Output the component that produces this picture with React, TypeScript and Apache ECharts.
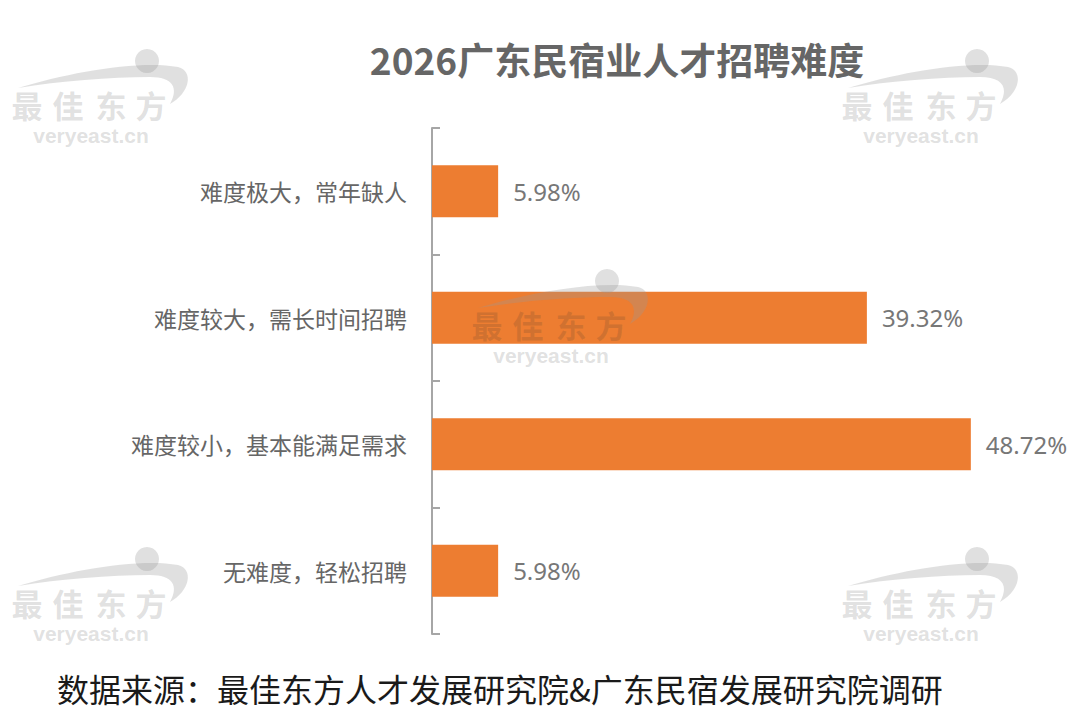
import React, { useEffect, useRef } from "react";
import * as echarts from "echarts";

const categories = [
  "难度极大，常年缺人",
  "难度较大，需长时间招聘",
  "难度较小，基本能满足需求",
  "无难度，轻松招聘",
];
const values = [5.98, 39.32, 48.72, 5.98];
const titleText = "2026广东民宿业人才招聘难度";
const sourceText = "数据来源：最佳东方人才发展研究院&广东民宿发展研究院调研";
const watermarkChars = ["最", "佳", "东", "方"];
const watermarkDomain = "veryeast.cn";
const watermarkOffsets = [
  [0, 0],
  [830, 0],
  [460, 220],
  [0, 498],
  [830, 498],
];

const SWOOSH =
  "M 18 88 C 70 72, 140 60, 178 67 C 194 71, 190 93, 170 104 C 179 88, 173 77, 150 77 C 110 77, 60 81, 18 88 Z";
let registered = false;
function ensureShape() {
  if (registered) return;
  echarts.graphic.registerShape("wmSwoosh", echarts.graphic.extendPath(SWOOSH, {}) as any);
  registered = true;
}

function watermark(dx: number, dy: number, onBar: boolean) {
  const fill = "#999999";
  const op = 0.3;
  const textFill = onBar ? "#6b4a30" : fill;
  const textOp = onBar ? 0.22 : op;
  const Z = 100;
  const charX = [27, 68, 111, 151];
  const children: any[] = [
    { type: "wmSwoosh", z: Z, x: dx, y: dy, style: { fill, opacity: op } },
    { type: "circle", z: Z, shape: { cx: dx + 147, cy: dy + 61, r: 12 }, style: { fill, opacity: op } },
  ];
  watermarkChars.forEach((c, i) => {
    children.push({
      type: "text",
      z: Z,
      x: dx + charX[i],
      y: dy + 104,
      style: {
        text: c,
        fill: textFill,
        opacity: textOp,
        font: 'bold 31px "Noto Sans CJK SC"',
        align: "center",
        verticalAlign: "middle",
      },
    });
  });
  children.push({
    type: "text",
    z: Z,
    x: dx + 91,
    y: dy + 135,
    style: {
      text: watermarkDomain,
      fill,
      opacity: op,
      font: 'bold 21px "Liberation Sans"',
      align: "center",
      verticalAlign: "middle",
    },
  });
  return { type: "group", z: Z, silent: true, children };
}

export default function App() {
  const ref = useRef<HTMLDivElement>(null);
  useEffect(() => {
    if (!ref.current) return;
    ensureShape();
    const chart = echarts.init(ref.current, null, { renderer: "svg" });
    chart.setOption({
      animation: false,
      backgroundColor: "#ffffff",
      title: {
        text: titleText,
        left: 612,
        top: 35,
        textAlign: "center",
        textStyle: {
          fontFamily: '"Noto Sans CJK SC"',
          fontSize: 37,
          fontWeight: "bold",
          color: "#666666",
        },
      },
      grid: { left: 432, right: 95, top: 128, bottom: 90, containLabel: false },
      xAxis: {
        type: "value",
        min: 0,
        max: 50,
        show: false,
      },
      yAxis: {
        type: "category",
        data: categories,
        inverse: true,
        axisLine: { show: true, lineStyle: { color: "#a6a6a6", width: 2 } },
        axisTick: { show: true, inside: true, length: 8, lineStyle: { color: "#a6a6a6", width: 2 } },
        axisLabel: {
          margin: 25,
          fontSize: 23,
          color: "#666666",
          fontFamily: '"Noto Sans CJK SC"',
        },
      },
      series: [
        {
          type: "bar",
          data: values,
          barWidth: 52,
          z: 2,
          itemStyle: { color: "#ED7D31" },
          label: {
            show: true,
            position: "right",
            distance: 15,
            formatter: "{c}%",
            fontSize: 24,
            color: "#777777",
            fontFamily: '"Noto Sans"',
          },
        },
      ],
      graphic: [
        ...watermarkOffsets.map(([dx, dy], i) => watermark(dx, dy, i === 2)),
        {
          type: "text",
          x: 57,
          y: 688,
          style: {
            text: sourceText,
            fill: "#1a1a1a",
            font: '32px "Noto Sans CJK SC"',
            verticalAlign: "middle",
          },
        },
      ],
    });
    return () => chart.dispose();
  }, []);
  return (
    <div
      ref={ref}
      style={{ position: "fixed", left: 0, top: 0, width: 1080, height: 724 }}
    />
  );
}
